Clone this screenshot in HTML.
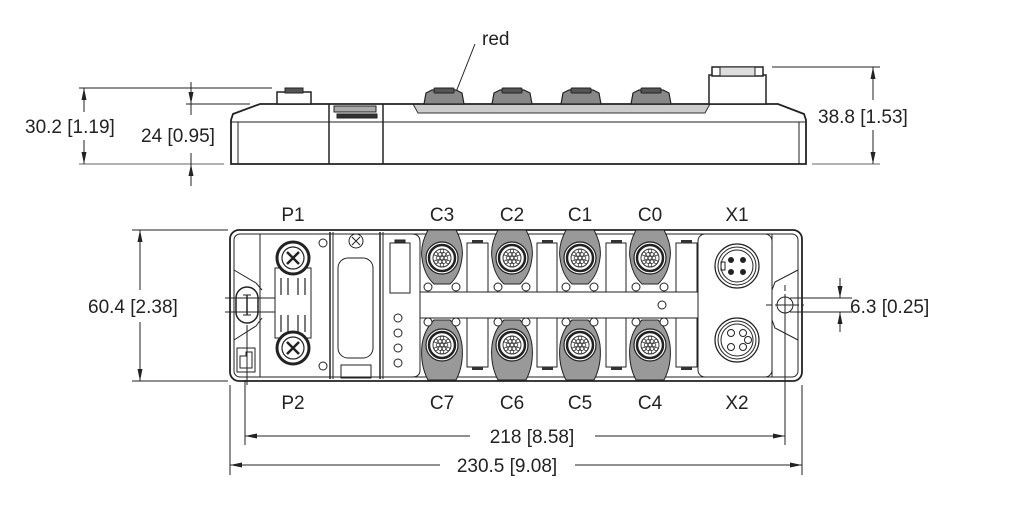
<!DOCTYPE html>
<html><head><meta charset="utf-8"><style>
html,body{margin:0;padding:0;background:#fff;width:1022px;height:511px;overflow:hidden}
svg text{font-family:"Liberation Sans",sans-serif;font-size:19px;fill:#222}
</style></head><body>
<svg width="1022" height="511" viewBox="0 0 1022 511" xmlns="http://www.w3.org/2000/svg">
<defs>
<marker id="a" markerWidth="12" markerHeight="6" refX="12" refY="3" orient="auto" markerUnits="userSpaceOnUse"><path d="M0,0.5 L12,3 L0,5.5z" fill="#222"/></marker>
<g id="cc">
  <circle r="16" fill="#fff" stroke="#222" stroke-width="1.2"/>
  <circle r="13" fill="none" stroke="#222" stroke-width="2.5"/>
  <circle r="9" fill="none" stroke="#333" stroke-width="1"/>
  <g fill="none" stroke="#333" stroke-width="0.8">
  <circle r="1.8" cx="0" cy="0"/><circle r="1.8" cx="4" cy="0"/><circle r="1.8" cx="-4" cy="0"/><circle r="1.8" cx="2" cy="3.6"/><circle r="1.8" cx="-2" cy="3.6"/><circle r="1.8" cx="2" cy="-3.6"/><circle r="1.8" cx="-2" cy="-3.6"/><circle r="1.8" cx="6" cy="4"/><circle r="1.8" cx="-6" cy="4"/><circle r="1.8" cx="6" cy="-4"/><circle r="1.8" cx="-6" cy="-4"/><circle r="1.8" cx="0" cy="7"/><circle r="1.8" cx="0" cy="-7"/></g>
</g>
<g id="tc">
  <path d="M-20,15 L-18,4 L-12,1 L12,1 L18,4 L20,15z" fill="#888" stroke="#222" stroke-width="1.2"/>
  <rect x="-10" y="-1" width="20" height="5" rx="1" fill="#555" stroke="#222"/>
</g>
</defs>
<g stroke="#222" fill="none" stroke-width="1">
<!-- TOP VIEW -->
<line x1="79" y1="88" x2="272" y2="88"/>
<line x1="186" y1="104" x2="250" y2="104"/>
<line x1="79" y1="164" x2="224" y2="164" stroke="#999" stroke-width="1.5"/>
<line x1="84" y1="112" x2="84" y2="88" marker-end="url(#a)"/>
<line x1="84" y1="140" x2="84" y2="164" marker-end="url(#a)"/>
<line x1="191" y1="82" x2="191" y2="104" marker-end="url(#a)"/>
<line x1="191" y1="186" x2="191" y2="164" marker-end="url(#a)"/>
<line x1="191" y1="104" x2="191" y2="115"/>
<line x1="191" y1="153" x2="191" y2="164"/>
<line x1="772" y1="67" x2="880" y2="67"/>
<line x1="812" y1="164" x2="880" y2="164" stroke="#999" stroke-width="1.5"/>
<line x1="873" y1="100" x2="873" y2="67" marker-end="url(#a)"/>
<line x1="873" y1="130" x2="873" y2="164" marker-end="url(#a)"/>
<line x1="475" y1="44" x2="456" y2="92"/>
<path d="M413,104 L418,113 L705,113 L710,104z" fill="#ccc" stroke="#333"/>
<path d="M231,164 L231,120 L233,114 L260,104 L778,104 L804,114 L806,120 L806,164z" stroke-width="1.8" fill="none"/>
<line x1="231" y1="122" x2="806" y2="122"/>
<line x1="238" y1="122" x2="238" y2="164"/>
<line x1="799" y1="122" x2="799" y2="164"/>
<line x1="329" y1="104" x2="329" y2="164" stroke-width="1.5"/>
<line x1="383" y1="104" x2="383" y2="164" stroke-width="1.5"/>
<rect x="334" y="106" width="42" height="6" fill="#aaa"/>
<rect x="337" y="114" width="40" height="4" fill="#333"/>
<rect x="277" y="92" width="34" height="12" fill="#fff" stroke-width="1.5"/>
<rect x="285" y="88" width="18" height="5" fill="#555"/>
<use href="#tc" x="444" y="89"/><use href="#tc" x="512" y="89"/><use href="#tc" x="581" y="89"/><use href="#tc" x="651" y="89"/>
<rect x="709" y="75" width="57" height="29" fill="#fff" stroke-width="1.5"/>
<rect x="712" y="67" width="51" height="9" fill="#fff" stroke-width="1.5"/>
<rect x="720" y="67" width="35" height="9" fill="#ddd"/>
<!-- BOTTOM VIEW -->
<line x1="132" y1="230" x2="228" y2="230"/>
<line x1="132" y1="381" x2="228" y2="381"/>
<line x1="140" y1="290" x2="140" y2="230" marker-end="url(#a)"/>
<line x1="140" y1="322" x2="140" y2="381" marker-end="url(#a)"/>
<rect x="230" y="230" width="572" height="151" rx="9" stroke-width="1.8" fill="#fff"/>
<rect x="234" y="234" width="564" height="143" rx="6" fill="#fff"/>
<line x1="260" y1="234" x2="260" y2="377"/>
<line x1="330" y1="232" x2="330" y2="379" stroke-width="1.5"/><line x1="333" y1="232" x2="333" y2="379"/>
<line x1="380" y1="232" x2="380" y2="379" stroke-width="1.5"/><line x1="383" y1="232" x2="383" y2="379"/>
<path d="M383,234 L412,234 Q420,234 420,242 L420,370 Q420,377 412,377 L383,377"/>
<!-- left cap -->
<path d="M234,270 L256,283 L262,290 M262,318 L256,326 L234,340"/>
<rect x="236" y="287" width="22" height="36" rx="11" stroke-width="1.5" fill="#fff"/>
<line x1="247" y1="295" x2="247" y2="315" stroke-width="1.5"/>
<line x1="243" y1="295" x2="251" y2="295"/><line x1="243" y1="315" x2="251" y2="315"/>
<line x1="225" y1="298" x2="262" y2="298"/><line x1="225" y1="312" x2="262" y2="312"/>
<line x1="247" y1="325" x2="247" y2="385"/>
<rect x="237" y="348" width="18" height="24"/>
<path d="M240,368 L240,356 L246,356 L246,352 L252,352 L252,368z"/>
<!-- P section -->
<path d="M275,268 L275,338 L311,338 L311,268z"/>
<g stroke-width="1.2"><line x1="281" y1="278" x2="281" y2="295"/><line x1="288" y1="278" x2="288" y2="295"/><line x1="298" y1="278" x2="298" y2="295"/><line x1="305" y1="278" x2="305" y2="295"/>
<line x1="281" y1="315" x2="281" y2="332"/><line x1="288" y1="315" x2="288" y2="332"/><line x1="298" y1="315" x2="298" y2="332"/><line x1="305" y1="315" x2="305" y2="332"/></g>
<line x1="260" y1="298" x2="275" y2="298"/><line x1="260" y1="312" x2="275" y2="312"/>
<g fill="#fff"><circle cx="293" cy="258" r="16" stroke-width="3"/><circle cx="293" cy="258" r="11" stroke-width="1.2"/>
<circle cx="293" cy="348" r="16" stroke-width="3"/><circle cx="293" cy="348" r="11" stroke-width="1.2"/></g>
<path d="M287,252 L299,264 M299,252 L287,264 M287,342 L299,354 M299,342 L287,354" stroke-width="2.5"/>
<circle cx="323" cy="243" r="4"/><circle cx="323" cy="366" r="4"/>
<!-- middle -->
<circle cx="356" cy="241" r="7"/><path d="M352,237 L360,245 M360,237 L352,245"/>
<rect x="338" y="258" width="35" height="100" rx="10"/>
<rect x="341" y="365" width="30" height="13"/>
<!-- IO -->
<rect x="390" y="243" width="20" height="50"/><rect x="395" y="240" width="10" height="3" fill="#333"/>
<circle cx="398" cy="318" r="4"/><circle cx="398" cy="333" r="4"/><circle cx="398" cy="348" r="4"/><circle cx="398" cy="363" r="4"/>
<line x1="420" y1="292" x2="698" y2="292"/><line x1="420" y1="318" x2="698" y2="318"/>
<circle cx="662" cy="305" r="4"/>
<!-- X panel -->
<rect x="698" y="234" width="74" height="143" rx="7" fill="#fff"/>
<line x1="772" y1="234" x2="772" y2="377"/>
<path d="M772,290 L775,282 L798,270 M772,320 L775,328 L798,340"/>
<circle cx="785" cy="305" r="8" fill="#fff"/><line x1="777" y1="305" x2="793" y2="305"/><line x1="785" y1="297" x2="785" y2="313"/>
<line x1="766" y1="305" x2="804" y2="305" stroke-dasharray="6,3"/>
<line x1="785" y1="285" x2="785" y2="297" stroke-dasharray="6,3"/>
<line x1="785" y1="313" x2="785" y2="445"/>
<circle cx="737" cy="266" r="22" stroke-width="1.2"/><circle cx="737" cy="266" r="19"/><circle cx="737" cy="266" r="16"/>
<g fill="#222"><circle cx="731" cy="260" r="2.5"/><circle cx="743" cy="260" r="2.5"/><circle cx="731" cy="272" r="2.5"/><circle cx="743" cy="272" r="2.5"/></g>
<rect x="721" y="262" width="4" height="8"/>
<circle cx="737" cy="340" r="22" stroke-width="1.2"/><circle cx="737" cy="340" r="19"/><circle cx="737" cy="340" r="16"/>
<circle cx="731" cy="333" r="3.5"/><circle cx="743" cy="333" r="3.5"/><circle cx="731" cy="347" r="3.5"/><circle cx="743" cy="347" r="3.5"/><circle cx="748" cy="340" r="3.5"/>
<!-- 6.3 dim -->
<line x1="790" y1="298" x2="852" y2="298"/><line x1="790" y1="312" x2="852" y2="312"/>
<line x1="840" y1="278" x2="840" y2="298" marker-end="url(#a)"/>
<line x1="840" y1="332" x2="840" y2="312" marker-end="url(#a)"/>
<!-- bottom dims -->
<line x1="245" y1="380" x2="245" y2="445"/>
<line x1="230" y1="385" x2="230" y2="475"/><line x1="802" y1="385" x2="802" y2="475"/>
<line x1="470" y1="436" x2="245" y2="436" marker-end="url(#a)"/>
<line x1="595" y1="436" x2="785" y2="436" marker-end="url(#a)"/>
<line x1="440" y1="465" x2="230" y2="465" marker-end="url(#a)"/>
<line x1="575" y1="465" x2="802" y2="465" marker-end="url(#a)"/>
</g>
<!-- C connectors bottom view -->
<g stroke="#222" stroke-width="1">
<g id="ct">
<path d="M428,230 L456,230 Q464,245 462,258 Q460,275 450,284 L434,284 Q424,275 422,258 Q420,245 428,230z" fill="#999"/>
</g>
<use href="#ct" x="70"/><use href="#ct" x="138"/><use href="#ct" x="208"/>
<g id="cb"><path d="M434,320 L450,320 Q460,330 462,345 Q464,365 456,380 L428,380 Q420,365 422,345 Q424,330 434,320z" fill="#999"/></g>
<use href="#cb" x="70"/><use href="#cb" x="138"/><use href="#cb" x="208"/>
</g>
<use href="#cc" x="442" y="258"/><use href="#cc" x="512" y="258"/><use href="#cc" x="580" y="258"/><use href="#cc" x="650" y="258"/>
<use href="#cc" x="442" y="345"/><use href="#cc" x="512" y="345"/><use href="#cc" x="580" y="345"/><use href="#cc" x="650" y="345"/>
<g stroke="#222" fill="#fff">
<rect x="467" y="243" width="21" height="49"/><rect x="537" y="243" width="20" height="49"/><rect x="606" y="243" width="20" height="49"/><rect x="676" y="243" width="21" height="49"/>
<rect x="467" y="318" width="21" height="49"/><rect x="537" y="318" width="20" height="49"/><rect x="606" y="318" width="20" height="49"/><rect x="676" y="318" width="21" height="49"/>
<g fill="#fff"><circle cx="428" cy="287" r="4"/><circle cx="456" cy="287" r="4"/><circle cx="498" cy="287" r="4"/><circle cx="526" cy="287" r="4"/><circle cx="566" cy="287" r="4"/><circle cx="594" cy="287" r="4"/><circle cx="636" cy="287" r="4"/><circle cx="664" cy="287" r="4"/>
<circle cx="428" cy="322" r="4"/><circle cx="456" cy="322" r="4"/><circle cx="498" cy="322" r="4"/><circle cx="526" cy="322" r="4"/><circle cx="566" cy="322" r="4"/><circle cx="594" cy="322" r="4"/><circle cx="636" cy="322" r="4"/><circle cx="664" cy="322" r="4"/></g>
</g>
<g fill="#333"><rect x="472" y="240" width="11" height="3"/><rect x="542" y="240" width="11" height="3"/><rect x="611" y="240" width="11" height="3"/><rect x="681" y="240" width="11" height="3"/>
<rect x="472" y="367" width="11" height="3"/><rect x="542" y="367" width="11" height="3"/><rect x="611" y="367" width="11" height="3"/><rect x="681" y="367" width="11" height="3"/></g>
<!-- text -->
<text x="482" y="45">red</text>
<text x="25" y="133">30.2 [1.19]</text>
<text x="141" y="142">24 [0.95]</text>
<text x="818" y="123">38.8 [1.53]</text>
<text x="88" y="313">60.4 [2.38]</text>
<text x="850" y="313">6.3 [0.25]</text>
<g text-anchor="middle">
<text x="293" y="221">P1</text><text x="442" y="221">C3</text><text x="512" y="221">C2</text><text x="580" y="221">C1</text><text x="650" y="221">C0</text><text x="737" y="221">X1</text>
<text x="293" y="409">P2</text><text x="442" y="409">C7</text><text x="512" y="409">C6</text><text x="580" y="409">C5</text><text x="650" y="409">C4</text><text x="737" y="409">X2</text>
<text x="532" y="443">218 [8.58]</text>
<text x="507" y="472">230.5 [9.08]</text>
</g>
</svg>
</body></html>
